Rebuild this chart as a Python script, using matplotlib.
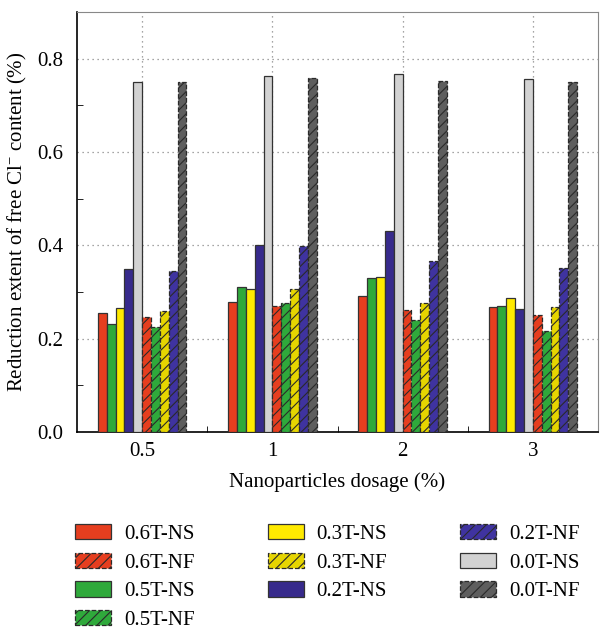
import matplotlib
matplotlib.use("Agg")
import matplotlib.pyplot as plt
import numpy as np
from matplotlib.ticker import MultipleLocator, FixedLocator

plt.rcParams['font.family'] = ['Liberation Serif', 'DejaVu Serif']
plt.rcParams['mathtext.fontset'] = 'custom'
plt.rcParams['mathtext.rm'] = 'Liberation Serif'
plt.rcParams['mathtext.it'] = 'Liberation Serif:italic'
plt.rcParams['hatch.linewidth'] = 0.8

dosages = ['0.5', '1', '2', '3']
series = ['0.6T-NS', '0.5T-NS', '0.3T-NS', '0.2T-NS', '0.0T-NS',
          '0.6T-NF', '0.5T-NF', '0.3T-NF', '0.2T-NF', '0.0T-NF']

v_06NS = [0.255, 0.278, 0.291, 0.267]
v_05NS = [0.231, 0.311, 0.329, 0.270]
v_03NS = [0.265, 0.307, 0.332, 0.288]
v_02NS = [0.350, 0.400, 0.430, 0.263]
v_00NS = [0.751, 0.762, 0.767, 0.756]
v_06NF = [0.247, 0.270, 0.261, 0.250]
v_05NF = [0.224, 0.277, 0.239, 0.217]
v_03NF = [0.260, 0.307, 0.277, 0.267]
v_02NF = [0.345, 0.399, 0.366, 0.351]
v_00NF = [0.749, 0.759, 0.752, 0.750]

values = [v_06NS, v_05NS, v_03NS, v_02NS, v_00NS,
          v_06NF, v_05NF, v_03NF, v_02NF, v_00NF]
colors = ['#E63E1F', '#2FA93B', '#FFEA00', '#372A8C', '#D2D2D2',
          '#E63E1F', '#2FA93B', '#E6D500', '#3F33A0', '#5E5E5E']
hatched = [False] * 5 + [True] * 5

fig = plt.figure(figsize=(6.0, 6.33), dpi=100)
ax = fig.add_axes([77/600, 1 - 432/633, (598-77)/600, (432-12)/633])

x = np.arange(len(dosages))
w = 0.068
handles = {}
for i, (name, vals, c, h) in enumerate(zip(series, values, colors, hatched)):
    off = (i - 4.5) * w
    if h:
        b = ax.bar(x + off, vals, w, color=c, edgecolor='#2a2a2a', hatch='///',
                   linewidth=0.9, linestyle='--', zorder=3, label=name)
    else:
        b = ax.bar(x + off, vals, w, color=c, edgecolor='#333333',
                   linewidth=0.9, zorder=3, label=name)
    handles[name] = b

ax.set_xlim(-0.5, 3.5)
ax.set_ylim(0, 0.9)
ax.set_xticks(x)
ax.set_xticklabels(dosages)
ax.xaxis.set_minor_locator(FixedLocator([0.5, 1.5, 2.5]))
ax.yaxis.set_major_locator(MultipleLocator(0.2))
ax.yaxis.set_minor_locator(MultipleLocator(0.1))
ax.yaxis.set_major_formatter(matplotlib.ticker.FormatStrFormatter('%.1f'))
ax.tick_params(axis='both', which='both', direction='in', labelsize=15)
ax.tick_params(axis='x', which='major', length=0, pad=7)
ax.tick_params(axis='x', which='minor', length=4)
ax.tick_params(axis='y', which='major', length=0, pad=10)
ax.tick_params(axis='y', which='minor', length=4)

ax.grid(True, which='major', linestyle=(0, (1, 3)), color='#888888', linewidth=0.9, zorder=0)
ax.set_axisbelow(True)
for s in ['top', 'right']:
    ax.spines[s].set_color('#888888')
for s in ['left', 'bottom']:
    ax.spines[s].set_linewidth(1.2)

ax.set_xlabel('Nanoparticles dosage (%)', fontsize=15, labelpad=8)
ax.set_ylabel(r'Reduction extent of free Cl$^{-}$ content (%)', fontsize=15, labelpad=6)

order = ['0.6T-NS', '0.6T-NF', '0.5T-NS', '0.5T-NF', '0.3T-NS', '0.3T-NF',
         '0.2T-NS', '0.2T-NF', '0.0T-NS', '0.0T-NF']
fig.legend([handles[n] for n in order], order, ncol=3, frameon=False,
           loc='upper left', bbox_to_anchor=(75/600, 1 - 524/633),
           fontsize=15, handlelength=1.75, handleheight=0.75, handletextpad=0.6,
           labelspacing=0.42, columnspacing=3.5, borderpad=0, borderaxespad=0)

fig.savefig('out.png', dpi=100)
